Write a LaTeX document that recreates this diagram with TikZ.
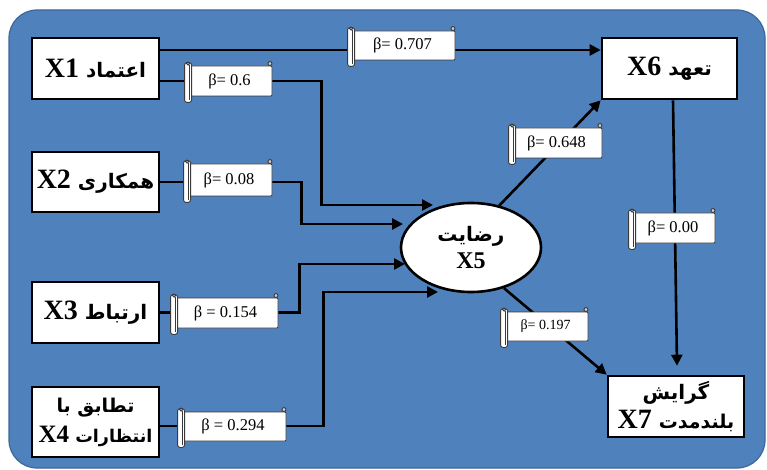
\documentclass[tikz,border=0pt]{standalone}
\usepackage{fontspec}
\setmainfont{Liberation Serif}
\newfontfamily\fa[Script=Arabic]{DejaVu Sans}
\TeXXeTstate=1
\usetikzlibrary{arrows.meta,shapes.geometric}
\definecolor{bgblue}{HTML}{4F81BD}
\definecolor{bgedge}{HTML}{3C6798}
\definecolor{scrolledge}{HTML}{3A3A3A}
\newcommand{\fatx}[2][20]{{\fa\bfseries\fontsize{#1}{26}\selectfont\beginR #2\endR}}
\newcommand{\betalab}[5]{%
  \node[scroll, minimum width=#3, minimum height=#4] (#1) at (#2) {#5};
  \draw[scrollline, fill=white, rounded corners=2.5pt] ([xshift=-2pt,yshift=3pt]#1.north west) rectangle ([xshift=5pt,yshift=-6pt]#1.south west);
  \draw[scrollline] ([xshift=2.5pt,yshift=1pt]#1.north west) -- ([xshift=2.5pt,yshift=-4pt]#1.south west);
  \draw[scrollline, fill=gray!40] ([xshift=1.5pt,yshift=2pt]#1.north west) circle (1.6pt);
  \draw[scrollline, fill=gray!40] ([xshift=-2.5pt,yshift=2pt]#1.north east) circle (2pt);
}
\begin{document}
\begin{tikzpicture}[x=1pt,y=-1pt,
  box/.style={draw=black, line width=2.6pt, fill=white, inner sep=0pt, align=center,
    font=\bfseries\fontsize{28}{30}\selectfont},
  conn/.style={line width=2.6pt, draw=black},
  arr/.style={conn, -{Triangle[length=11pt,width=11pt]}},
  scroll/.style={draw=scrolledge, line width=0.9pt, fill=white, inner sep=0pt,
    rounded corners=1pt, font=\fontsize{16.5}{18}\selectfont},
  scrollline/.style={draw=scrolledge, line width=0.9pt}
]
\useasboundingbox (0,0) rectangle (767,470);
\fill[white] (0,0) rectangle (767,470);
\draw[fill=bgblue, draw=bgedge, line width=1.2pt, rounded corners=28pt] (9,10) rectangle (765,468);

% boxes
\node[box, minimum width=127pt, minimum height=61pt] (x1) at (95.5,68.5) {X1\ \fatx{اعتماد}};
\node[box, minimum width=127pt, minimum height=60pt] (x2) at (95.5,182) {X2\ \fatx{همکاری}};
\node[box, minimum width=127pt, minimum height=61pt] (x3) at (95.5,312.5) {X3\ \fatx{ارتباط}};
\node[box, minimum width=127pt, minimum height=70pt, font=\bfseries\fontsize{25}{30}\selectfont] (x4) at (95.5,422) {\fatx[19]{تطابق با}\\X4\ \fatx[17.5]{انتظارات}};
\node[box, minimum width=135pt, minimum height=61pt] (x6) at (669.5,68.5) {X6\ \fatx{تعهد}};
\node[box, minimum width=136pt, minimum height=61pt, font=\bfseries\fontsize{28}{29}\selectfont] (x7) at (676,406.5) {\fatx{گرایش}\\X7\ \fatx[19]{بلندمدت}};
\node[box, ellipse, minimum width=140pt, minimum height=89pt, font=\bfseries\fontsize{24}{27}\selectfont] (x5) at (471,247.5) {\fatx{رضایت}\\X5};

% arrow end points near the ellipse
\coordinate (t1) at (433,205);
\coordinate (t2) at (403,224);
\coordinate (t3) at (405,264);
\coordinate (t4) at (438,292);

% connectors
\draw[arr] ([yshift=18.5pt]x1.east) -- ([yshift=18.5pt]x6.west);
\draw[arr] ([yshift=-12.5pt]x1.east) -- ++(161,0) |- (t1);
\draw[arr] (x2.east) -- ++(141,0) |- (t2);
\draw[arr] (x3.east) -- ++(139,0) |- (t3);
\draw[arr] ([yshift=-4pt]x4.east) -- ++(163,0) |- (t4);
\draw[arr] (x5.56) -- (x6.south west);
\draw[arr] (x5.-51) -- (x7.north west);
\draw[arr] ([xshift=3.5pt]x6.south) -- ([xshift=1pt,yshift=9pt]x7.north);

% beta labels
\betalab{l707}{402.5,45.5}{105pt}{29pt}{β= 0.707}
\betalab{l06}{229.5,81}{85pt}{30pt}{β= 0.6}
\betalab{l008}{229,180}{86pt}{32pt}{β= 0.08}
\betalab{l154}{225.5,313}{105pt}{30pt}{β = 0.154}
\betalab{l294}{233,426.5}{106pt}{29pt}{β = 0.294}
\betalab{l648}{556.5,143}{91pt}{30pt}{β= 0.648}
\betalab{l000}{673,228}{84pt}{30pt}{β= 0.00}
\betalab{l197}{545.5,326.5}{85pt}{29pt}{\fontsize{14}{16}\selectfont β= 0.197}
\end{tikzpicture}
\end{document}
